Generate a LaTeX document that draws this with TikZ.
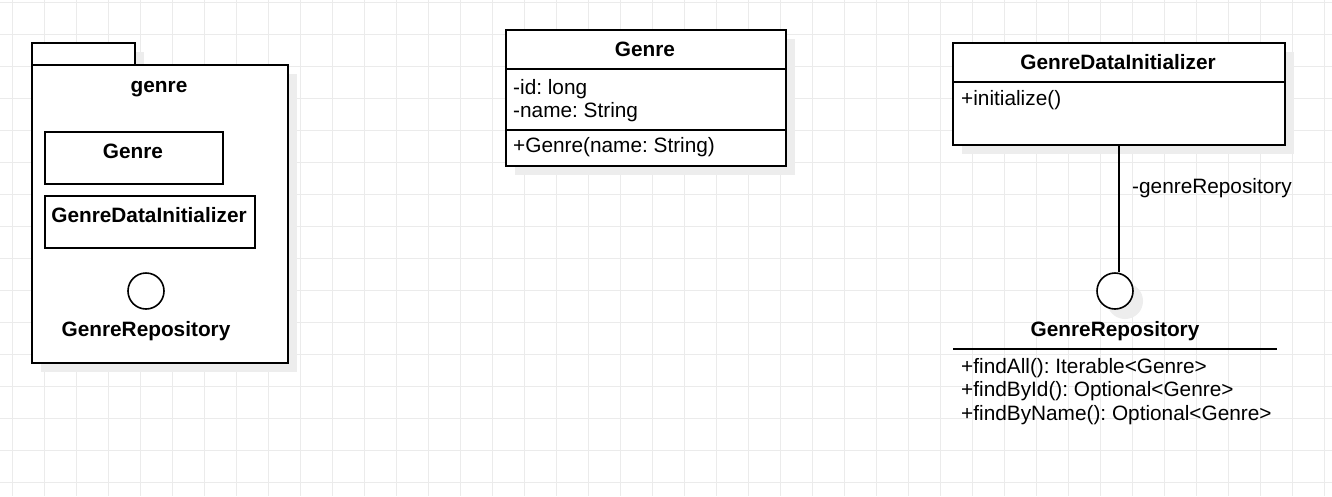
\documentclass[tikz,border=0pt]{standalone}
\usepackage{fontspec}
\setmainfont{Liberation Sans}
\usetikzlibrary{positioning}
\frenchspacing

\tikzset{
	umlbox/.style={rectangle, draw=black, line width=1.6pt, fill=white, inner sep=0pt, anchor=north west},
	iface/.style={circle, draw=black, line width=1.6pt, fill=white, inner sep=0pt, minimum size=36pt},
	shadowfill/.style={fill=black!7, draw=none},
	gridline/.style={draw=black!8, line width=1pt},
	txt/.style={font=\fontsize{20.8}{24}\selectfont, inner sep=0pt},
	btxt/.style={font=\fontsize{20.8}{24}\selectfont\bfseries, inner sep=0pt}
}

\begin{document}
\begin{tikzpicture}[x=1pt, y=-1pt]
		\useasboundingbox (0,0) rectangle (1332,496);
		\fill[white] (0,0) rectangle (1332,496);
		% grid
		\foreach \gx in {12,44,...,1332}
			\draw[gridline] (\gx,0) -- (\gx,496);
		\foreach \gy in {2,34,...,496}
			\draw[gridline] (0,\gy) -- (1332,\gy);
		% shadows
		\fill[shadowfill] (41,52) rectangle (144,74);
		\fill[shadowfill] (41,74) rectangle (297,372);
		\fill[shadowfill] (54,141) rectangle (232,193);
		\fill[shadowfill] (54,205) rectangle (264,257);
		\fill[shadowfill] (156,301) circle [radius=18];
		\fill[shadowfill] (515,39) rectangle (795,175);
		\fill[shadowfill] (962,52) rectangle (1294,154);
		\fill[shadowfill] (1125,301) circle [radius=18];
		% package genre
		\node[umlbox, minimum width=103pt, minimum height=22pt] (pkgtab) at (31,42) {};
		\node[umlbox, minimum width=256pt, minimum height=298pt] (pkg) at (31,64) {};
		\node[btxt, anchor=base] (pkgname) at (159,92) {genre};
		\node[umlbox, minimum width=178pt, minimum height=52pt] (pkggenre) at (44,131) {};
		\node[btxt, anchor=base] (pkggenrename) at (133,158) {Genre};
		\node[umlbox, minimum width=210pt, minimum height=52pt] (pkggdi) at (44,195) {};
		\node[btxt, anchor=base] (pkggdiname) at (149,222) {GenreDataInitializer};
		\node[iface] (pkgrepo) at (146,291) {};
		\node[btxt, anchor=base] (pkgreponame) at (146,336) {GenreRepository};
		% class Genre
		\node[umlbox, minimum width=280pt, minimum height=136pt] (genrecls) at (505,29) {};
		\draw[line width=1.6pt] (genrecls.west |- 0,69) -- (genrecls.east |- 0,69);
		\draw[line width=1.6pt] (genrecls.west |- 0,130) -- (genrecls.east |- 0,130);
		\node[btxt, anchor=base] (genretitle) at (645,56) {Genre};
		\node[txt, anchor=base west] (genreid) at (513,94) {-id: long};
		\node[txt, anchor=base west] (genrename) at (513,117) {-name: String};
		\node[txt, anchor=base west] (genrector) at (513,152) {+Genre(name: String)};
		% class GenreDataInitializer
		\node[umlbox, minimum width=332pt, minimum height=102pt] (gdi) at (952,42) {};
		\draw[line width=1.6pt] (gdi.west |- 0,82) -- (gdi.east |- 0,82);
		\node[btxt, anchor=base] (gdititle) at (1118,69) {GenreDataInitializer};
		\node[txt, anchor=base west] (gdiinit) at (961,105) {+initialize()};
		% interface GenreRepository
		\node[iface] (repo) at (1115,291) {};
		\node[btxt, anchor=base] (reponame) at (1115,336) {GenreRepository};
		\draw[line width=1.2pt] (953,349) -- (1277,349);
		\node[txt, anchor=base west] (repoall) at (961,373) {+findAll(): Iterable<Genre>};
		\node[txt, anchor=base west] (repoid) at (961,396) {+findById(): Optional<Genre>};
		\node[txt, anchor=base west] (reponm) at (961,420) {+findByName(): Optional<Genre>};
		% association
		\draw[line width=1.6pt] (gdi.south) -- (gdi.south |- repo.north);
		\node[txt, anchor=base west] (assoclbl) at (1132,193) {-genreRepository};
	\end{tikzpicture}
\end{document}
